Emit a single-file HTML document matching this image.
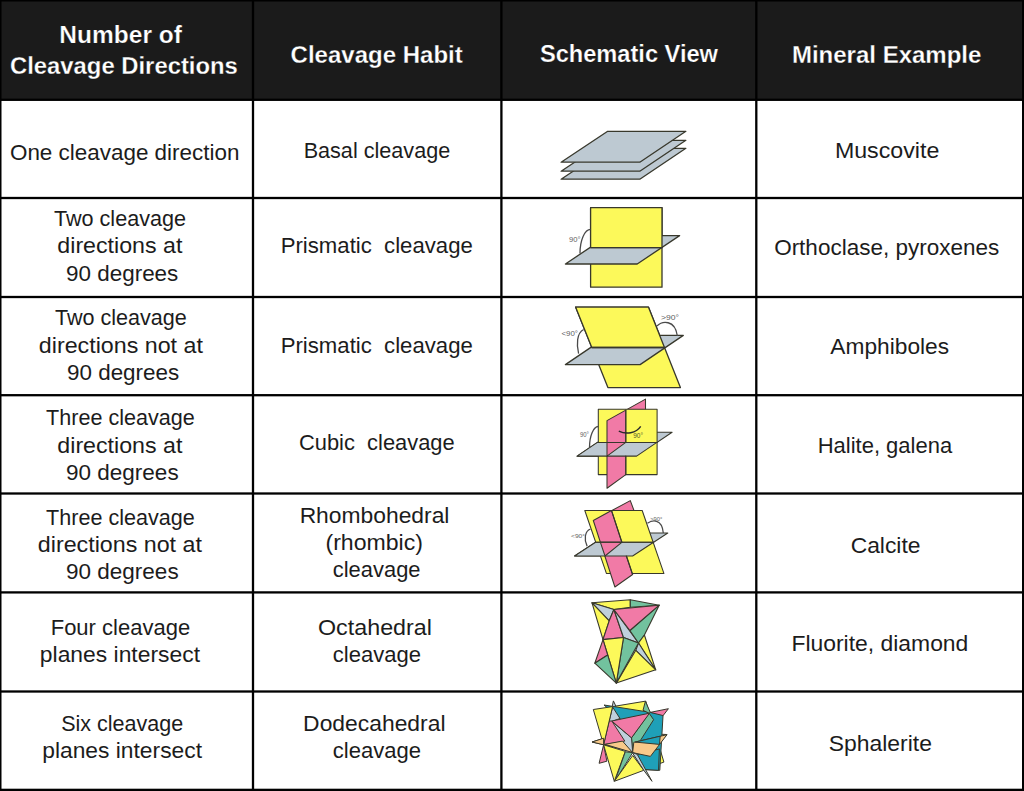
<!DOCTYPE html>
<html><head><meta charset="utf-8"><style>
html,body{margin:0;padding:0;background:#fff;width:1024px;height:791px;overflow:hidden}
svg{display:block}
text{font-family:"Liberation Sans",sans-serif}
</style></head><body>
<svg width="1024" height="791" viewBox="0 0 1024 791">
<rect width="1024" height="791" fill="#fff"/>
<rect x="0" y="0" width="1024" height="99.5" fill="#1b1b1b"/>
<rect x="0" y="0" width="1024" height="1.5" fill="#000"/><rect x="0" y="0" width="1.5" height="791" fill="#000"/><rect x="1022" y="0" width="2" height="791" fill="#000"/><rect x="0" y="788.7" width="1024" height="2.3" fill="#000"/>
<rect x="0" y="98.65" width="1024" height="2.3" fill="#000"/>
<rect x="0" y="196.85" width="1024" height="2.3" fill="#000"/>
<rect x="0" y="295.85" width="1024" height="2.3" fill="#000"/>
<rect x="0" y="394.05" width="1024" height="2.3" fill="#000"/>
<rect x="0" y="492.35" width="1024" height="2.3" fill="#000"/>
<rect x="0" y="591.25" width="1024" height="2.3" fill="#000"/>
<rect x="0" y="690.35" width="1024" height="2.3" fill="#000"/>
<rect x="251.85" y="0" width="2.3" height="791" fill="#000"/>
<rect x="500.25" y="0" width="2.3" height="791" fill="#000"/>
<rect x="755.15" y="0" width="2.3" height="791" fill="#000"/>
<polygon points="607.7,148.3 685.9,148.3 639.8,179.2 561.1,179.2" fill="#bdc9d2" stroke="#38382c" stroke-width="1.3" stroke-linejoin="round"/>
<polygon points="607.7,140.3 685.9,140.3 639.8,171.2 561.1,171.2" fill="#bdc9d2" stroke="#38382c" stroke-width="1.3" stroke-linejoin="round"/>
<polygon points="607.7,131.3 685.9,131.3 639.8,162.2 561.1,162.2" fill="#bdc9d2" stroke="#38382c" stroke-width="1.3" stroke-linejoin="round"/>
<polygon points="590.6,207.6 662.0,207.6 662.0,287.2 590.6,287.2" fill="#fcf95a" stroke="#38382c" stroke-width="1.3" stroke-linejoin="round"/>
<polygon points="565.4,264.0 637.2,264.0 679.6,235.6 607.8,235.6" fill="#bdc9d2" stroke="#38382c" stroke-width="1.3" stroke-linejoin="round"/>
<polygon points="590.6,207.6 662.0,207.6 662.0,247.6 590.6,247.6" fill="#fcf95a" stroke="#38382c" stroke-width="1.3" stroke-linejoin="round"/>
<line x1="590.6" y1="247.6" x2="662.0" y2="247.6" stroke="#38382c" stroke-width="1.3" stroke-linecap="round"/>
<path d="M580,253.5 A10.6,24 0 0 1 590.6,229.3" fill="none" stroke="#4a4a4a" stroke-width="1.3"/>
<text x="569.0" y="242.3" style="font-size:7px" textLength="11.5" lengthAdjust="spacingAndGlyphs" fill="#5e5e5e">90°</text>
<polygon points="575.6,307.1 648.4,307.1 680.4,387.6 607.9,387.6" fill="#fcf95a" stroke="#38382c" stroke-width="1.3" stroke-linejoin="round"/>
<polygon points="565.4,364.6 640.1,364.6 683.3,335.4 608.6,335.4" fill="#bdc9d2" stroke="#38382c" stroke-width="1.3" stroke-linejoin="round"/>
<polygon points="575.6,307.1 648.4,307.1 664.5,347.5 591.8,347.5" fill="#fcf95a" stroke="#38382c" stroke-width="1.3" stroke-linejoin="round"/>
<line x1="591.8" y1="347.5" x2="664.5" y2="347.5" stroke="#38382c" stroke-width="1.3" stroke-linecap="round"/>
<path d="M578.6,353.7 C576.5,345 576.5,333 583.7,329.5" fill="none" stroke="#4a4a4a" stroke-width="1.3"/>
<text x="561.5" y="336.3" style="font-size:6.5px" textLength="16.5" lengthAdjust="spacingAndGlyphs" fill="#5e5e5e">&lt;90°</text>
<path d="M656.9,326 C662,321 675,319 677.4,336" fill="none" stroke="#4a4a4a" stroke-width="1.3"/>
<text x="661.0" y="320.3" style="font-size:6.5px" textLength="18.0" lengthAdjust="spacingAndGlyphs" fill="#5e5e5e">&gt;90°</text>
<polygon points="607.0,420.6 645.5,399.1 645.5,455.0 607.0,470.0" fill="#f17aa6" stroke="#38382c" stroke-width="1.05" stroke-linejoin="round"/>
<polygon points="577.1,456.1 636.6,456.1 672.1,432.2 612.6,432.2" fill="#bdc9d2" stroke="#38382c" stroke-width="1.05" stroke-linejoin="round"/>
<polygon points="598.3,409.3 657.1,409.3 657.1,474.6 598.3,474.6" fill="#fcf95a" stroke="#38382c" stroke-width="1.05" stroke-linejoin="round"/>
<polygon points="607.0,420.6 625.8,410.1 625.8,474.6 607.0,488.2" fill="#f17aa6" stroke="#38382c" stroke-width="1.05" stroke-linejoin="round"/>
<polygon points="577.1,456.1 636.6,456.1 656.9,442.4 597.4,442.4" fill="#bdc9d2" stroke="#38382c" stroke-width="1.05" stroke-linejoin="round"/>
<polygon points="607.0,442.4 625.8,442.4 607.0,456.1" fill="#f17aa6" stroke="#38382c" stroke-width="1.05" stroke-linejoin="round"/>
<line x1="598.3" y1="442.4" x2="657.1" y2="442.4" stroke="#38382c" stroke-width="1.05" stroke-linecap="round"/>
<line x1="625.8" y1="410.1" x2="625.8" y2="442.4" stroke="#38382c" stroke-width="1.05" stroke-linecap="round"/>
<line x1="625.8" y1="456.1" x2="625.8" y2="474.6" stroke="#38382c" stroke-width="1.05" stroke-linecap="round"/>
<path d="M589.5,447.5 A8.8,21 0 0 1 598.3,426.5" fill="none" stroke="#4a4a4a" stroke-width="1.3"/>
<text x="580.0" y="436.8" style="font-size:6.3px" textLength="9.0" lengthAdjust="spacingAndGlyphs" fill="#5e5e5e">90°</text>
<path d="M618.8,431.1 C626,434.5 636,433.5 640.7,426.4" fill="none" stroke="#2a2a2a" stroke-width="1.4"/>
<text x="633.2" y="438.3" style="font-size:6.3px" textLength="9.8" lengthAdjust="spacingAndGlyphs" fill="#55552a">90°</text>
<polygon points="593.3,520.5 630.3,500.6 645.0,540.0 610.0,560.0" fill="#f17aa6" stroke="#38382c" stroke-width="1.05" stroke-linejoin="round"/>
<polygon points="574.6,556.0 632.6,556.0 667.8,533.0 609.8,533.0" fill="#bdc9d2" stroke="#38382c" stroke-width="1.05" stroke-linejoin="round"/>
<polygon points="584.8,510.5 642.2,510.5 663.9,573.4 606.4,573.4" fill="#fcf95a" stroke="#38382c" stroke-width="1.05" stroke-linejoin="round"/>
<polygon points="593.3,520.5 611.5,510.5 632.6,574.5 614.9,587.0" fill="#f17aa6" stroke="#38382c" stroke-width="1.05" stroke-linejoin="round"/>
<polygon points="574.6,556.0 632.6,556.0 653.6,542.3 595.6,542.3" fill="#bdc9d2" stroke="#38382c" stroke-width="1.05" stroke-linejoin="round"/>
<polygon points="600.4,542.3 621.8,542.3 605.0,556.0" fill="#f17aa6" stroke="#38382c" stroke-width="1.05" stroke-linejoin="round"/>
<line x1="595.6" y1="542.3" x2="653.6" y2="542.3" stroke="#38382c" stroke-width="1.05" stroke-linecap="round"/>
<line x1="611.5" y1="510.5" x2="621.8" y2="542.3" stroke="#38382c" stroke-width="1.05" stroke-linecap="round"/>
<line x1="626.3" y1="556.0" x2="632.6" y2="574.5" stroke="#38382c" stroke-width="1.05" stroke-linecap="round"/>
<path d="M587.1,546.1 C584,540 584.5,531 590.5,529" fill="none" stroke="#4a4a4a" stroke-width="1.3"/>
<text x="571.0" y="537.6" style="font-size:6px" textLength="14.0" lengthAdjust="spacingAndGlyphs" fill="#5e5e5e">&lt;90°</text>
<path d="M647.4,523.3 C652,520 662,518 663.3,533" fill="none" stroke="#4a4a4a" stroke-width="1.3"/>
<text x="650.2" y="521.2" style="font-size:6px" textLength="12.1" lengthAdjust="spacingAndGlyphs" fill="#5e5e5e">&gt;90°</text>
<polygon points="592.0,602.8 630.3,599.8 630.3,607.2 613.9,609.5" fill="#fcf95a" stroke="#38382c" stroke-width="1.1" stroke-linejoin="round"/>
<polygon points="630.3,599.8 659.2,605.2 630.3,607.2" fill="#72c29e" stroke="#38382c" stroke-width="1.1" stroke-linejoin="round"/>
<polygon points="592.0,602.8 613.9,609.5 609.2,620.8" fill="#bfd0dc" stroke="#38382c" stroke-width="1.1" stroke-linejoin="round"/>
<polygon points="592.0,602.8 609.2,620.8 603.0,639.6" fill="#fcf95a" stroke="#38382c" stroke-width="1.1" stroke-linejoin="round"/>
<polygon points="613.9,609.5 623.5,637.5 603.0,639.6 609.2,620.8" fill="#f17aa6" stroke="#38382c" stroke-width="1.1" stroke-linejoin="round"/>
<polygon points="613.9,609.5 638.5,643.0 623.5,637.5" fill="#bfd0dc" stroke="#38382c" stroke-width="1.1" stroke-linejoin="round"/>
<polygon points="659.2,605.2 644.4,635.0 638.5,643.0 629.9,630.5" fill="#72c29e" stroke="#38382c" stroke-width="1.1" stroke-linejoin="round"/>
<polygon points="613.9,609.5 659.2,605.2 629.9,630.5" fill="#f17aa6" stroke="#38382c" stroke-width="1.1" stroke-linejoin="round"/>
<polygon points="644.4,635.0 655.7,669.8 638.5,643.0" fill="#fcf95a" stroke="#38382c" stroke-width="1.1" stroke-linejoin="round"/>
<polygon points="638.5,643.0 655.7,669.8 635.8,650.3" fill="#bfd0dc" stroke="#38382c" stroke-width="1.1" stroke-linejoin="round"/>
<polygon points="635.8,650.3 655.7,669.8 616.3,683.1" fill="#fcf95a" stroke="#38382c" stroke-width="1.1" stroke-linejoin="round"/>
<polygon points="623.5,637.5 638.5,643.0 616.3,683.1" fill="#72c29e" stroke="#38382c" stroke-width="1.1" stroke-linejoin="round"/>
<polygon points="603.0,639.6 623.5,637.5 616.3,683.1" fill="#fcf95a" stroke="#38382c" stroke-width="1.1" stroke-linejoin="round"/>
<polygon points="603.0,639.6 607.7,655.0 594.8,663.2" fill="#f17aa6" stroke="#38382c" stroke-width="1.1" stroke-linejoin="round"/>
<polygon points="594.8,663.2 607.7,655.0 616.3,683.1" fill="#72c29e" stroke="#38382c" stroke-width="1.1" stroke-linejoin="round"/>
<polygon points="612.6,706.6 645.8,701.1 663.9,762.1 659.4,763.7" fill="#fcf95a" stroke="#38382c" stroke-width="1.0" stroke-linejoin="round"/>
<polygon points="592.1,742.0 622.5,732.5 666.8,734.5 649.5,755.5" fill="#f8c98a" stroke="#38382c" stroke-width="1.0" stroke-linejoin="round"/>
<polygon points="604.0,705.0 663.1,714.4 659.8,770.3 643.8,769.5 632.7,752.6 620.0,718.5" fill="#1fa0b8" stroke="#38382c" stroke-width="1.0" stroke-linejoin="round"/>
<polygon points="613.4,700.9 615.9,706.2 612.2,706.6" fill="#bfd0dc" stroke="#38382c" stroke-width="1.0" stroke-linejoin="round"/>
<polygon points="650.3,712.4 668.4,708.7 663.1,715.6" fill="#f17aa6" stroke="#38382c" stroke-width="1.0" stroke-linejoin="round"/>
<polygon points="645.4,701.3 650.3,712.4 649.1,713.2 643.0,710.3" fill="#72c29e" stroke="#38382c" stroke-width="1.0" stroke-linejoin="round"/>
<polygon points="649.1,713.2 653.6,719.7 632.7,752.6 631.5,737.8" fill="#72c29e" stroke="#38382c" stroke-width="1.0" stroke-linejoin="round"/>
<polygon points="612.6,707.0 620.0,718.5 611.8,721.4 631.5,737.8 632.7,752.6 622.5,743.9 603.6,744.8" fill="#bfd0dc" stroke="#38382c" stroke-width="1.0" stroke-linejoin="round"/>
<polygon points="611.8,721.0 649.5,713.2 631.5,737.8" fill="#f17aa6" stroke="#38382c" stroke-width="1.0" stroke-linejoin="round"/>
<polygon points="611.8,721.0 624.8,741.1 603.6,744.8 609.2,721.0" fill="#f17aa6" stroke="#38382c" stroke-width="1.0" stroke-linejoin="round"/>
<polygon points="593.3,709.5 612.6,706.6 603.6,744.8" fill="#fcf95a" stroke="#38382c" stroke-width="1.0" stroke-linejoin="round"/>
<polygon points="592.1,742.0 603.6,738.2 603.6,744.8" fill="#f8c98a" stroke="#38382c" stroke-width="1.0" stroke-linejoin="round"/>
<polygon points="604.8,744.3 622.5,741.1 632.7,752.6" fill="#f8c98a" stroke="#38382c" stroke-width="1.0" stroke-linejoin="round"/>
<polygon points="637.2,754.7 659.4,748.9 658.5,770.3 643.8,769.5" fill="#1fa0b8" stroke="#38382c" stroke-width="1.0" stroke-linejoin="round"/>
<polygon points="633.8,742.3 667.0,734.7 650.4,756.4 632.6,752.6" fill="#f8c98a" stroke="#38382c" stroke-width="1.0" stroke-linejoin="round"/>
<polygon points="635.2,742.1 660.2,736.2 659.5,744.4" fill="#1fa0b8" stroke="#38382c" stroke-width="1.0" stroke-linejoin="round"/>
<polygon points="603.6,744.8 606.9,761.2 599.1,763.3" fill="#f17aa6" stroke="#38382c" stroke-width="1.0" stroke-linejoin="round"/>
<polygon points="603.6,744.8 625.3,751.4 614.3,781.3" fill="#fcf95a" stroke="#38382c" stroke-width="1.0" stroke-linejoin="round"/>
<polygon points="625.3,751.8 632.7,752.6 615.1,780.9" fill="#72c29e" stroke="#38382c" stroke-width="1.0" stroke-linejoin="round"/>
<polygon points="632.7,755.5 643.8,770.3 614.3,781.3" fill="#fcf95a" stroke="#38382c" stroke-width="1.0" stroke-linejoin="round"/>
<polygon points="632.3,752.6 637.2,754.3 652.0,781.3 643.8,770.3" fill="#bfd0dc" stroke="#38382c" stroke-width="1.0" stroke-linejoin="round"/>
<text transform="translate(59.36 42.50) scale(1.0433 1)" style="font-size:23.5px;font-weight:bold;" fill="#fff" stroke="#1b1b1b" stroke-width="0.25" xml:space="preserve">Number of</text>
<text transform="translate(10.02 73.60) scale(1.0147 1)" style="font-size:23.5px;font-weight:bold;" fill="#fff" stroke="#1b1b1b" stroke-width="0.25" xml:space="preserve">Cleavage Directions</text>
<text transform="translate(290.61 62.50) scale(1.0219 1)" style="font-size:23.5px;font-weight:bold;" fill="#fff" stroke="#1b1b1b" stroke-width="0.25" xml:space="preserve">Cleavage Habit</text>
<text transform="translate(539.92 62.40) scale(1.0056 1)" style="font-size:23.5px;font-weight:bold;" fill="#fff" stroke="#1b1b1b" stroke-width="0.25" xml:space="preserve">Schematic View</text>
<text transform="translate(791.89 62.60) scale(1.0225 1)" style="font-size:23.5px;font-weight:bold;" fill="#fff" stroke="#1b1b1b" stroke-width="0.25" xml:space="preserve">Mineral Example</text>
<text transform="translate(9.94 159.70) scale(1.0437 1)" style="font-size:21.5px;" fill="#1c1c1c" xml:space="preserve">One cleavage direction</text>
<text transform="translate(53.91 225.70) scale(1.0052 1)" style="font-size:21.5px;" fill="#1c1c1c" xml:space="preserve">Two cleavage</text>
<text transform="translate(57.33 253.40) scale(1.0796 1)" style="font-size:21.5px;" fill="#1c1c1c" xml:space="preserve">directions at</text>
<text transform="translate(66.05 280.80) scale(1.0435 1)" style="font-size:21.5px;" fill="#1c1c1c" xml:space="preserve">90 degrees</text>
<text transform="translate(54.91 325.30) scale(1.0045 1)" style="font-size:21.5px;" fill="#1c1c1c" xml:space="preserve">Two cleavage</text>
<text transform="translate(38.82 353.00) scale(1.0821 1)" style="font-size:21.5px;" fill="#1c1c1c" xml:space="preserve">directions not at</text>
<text transform="translate(67.05 379.90) scale(1.0425 1)" style="font-size:21.5px;" fill="#1c1c1c" xml:space="preserve">90 degrees</text>
<text transform="translate(46.11 424.60) scale(1.0043 1)" style="font-size:21.5px;" fill="#1c1c1c" xml:space="preserve">Three cleavage</text>
<text transform="translate(57.33 453.00) scale(1.0796 1)" style="font-size:21.5px;" fill="#1c1c1c" xml:space="preserve">directions at</text>
<text transform="translate(66.04 479.70) scale(1.0473 1)" style="font-size:21.5px;" fill="#1c1c1c" xml:space="preserve">90 degrees</text>
<text transform="translate(46.11 524.60) scale(1.0043 1)" style="font-size:21.5px;" fill="#1c1c1c" xml:space="preserve">Three cleavage</text>
<text transform="translate(37.82 552.30) scale(1.0821 1)" style="font-size:21.5px;" fill="#1c1c1c" xml:space="preserve">directions not at</text>
<text transform="translate(66.04 579.30) scale(1.0473 1)" style="font-size:21.5px;" fill="#1c1c1c" xml:space="preserve">90 degrees</text>
<text transform="translate(50.69 634.50) scale(1.0238 1)" style="font-size:21.5px;" fill="#1c1c1c" xml:space="preserve">Four cleavage</text>
<text transform="translate(39.83 661.80) scale(1.0641 1)" style="font-size:21.5px;" fill="#1c1c1c" xml:space="preserve">planes intersect</text>
<text transform="translate(61.22 730.50) scale(1.0011 1)" style="font-size:21.5px;" fill="#1c1c1c" xml:space="preserve">Six cleavage</text>
<text transform="translate(42.23 757.80) scale(1.0615 1)" style="font-size:21.5px;" fill="#1c1c1c" xml:space="preserve">planes intersect</text>
<text transform="translate(303.63 157.80) scale(1.0063 1)" style="font-size:21.5px;" fill="#1c1c1c" xml:space="preserve">Basal cleavage</text>
<text transform="translate(280.68 253.40) scale(1.0311 1)" style="font-size:21.5px;" fill="#1c1c1c" xml:space="preserve">Prismatic  cleavage</text>
<text transform="translate(280.68 352.80) scale(1.0311 1)" style="font-size:21.5px;" fill="#1c1c1c" xml:space="preserve">Prismatic  cleavage</text>
<text transform="translate(298.99 450.30) scale(1.0177 1)" style="font-size:21.5px;" fill="#1c1c1c" xml:space="preserve">Cubic  cleavage</text>
<text transform="translate(299.63 522.60) scale(1.0629 1)" style="font-size:21.5px;" fill="#1c1c1c" xml:space="preserve">Rhombohedral</text>
<text transform="translate(325.47 550.00) scale(1.0747 1)" style="font-size:21.5px;" fill="#1c1c1c" xml:space="preserve">(rhombic)</text>
<text transform="translate(332.77 577.30) scale(1.0203 1)" style="font-size:21.5px;" fill="#1c1c1c" xml:space="preserve">cleavage</text>
<text transform="translate(318.00 634.50) scale(1.0836 1)" style="font-size:21.5px;" fill="#1c1c1c" xml:space="preserve">Octahedral</text>
<text transform="translate(332.76 661.80) scale(1.0250 1)" style="font-size:21.5px;" fill="#1c1c1c" xml:space="preserve">cleavage</text>
<text transform="translate(303.12 730.80) scale(1.0638 1)" style="font-size:21.5px;" fill="#1c1c1c" xml:space="preserve">Dodecahedral</text>
<text transform="translate(332.76 758.20) scale(1.0250 1)" style="font-size:21.5px;" fill="#1c1c1c" xml:space="preserve">cleavage</text>
<text transform="translate(834.90 158.40) scale(1.0791 1)" style="font-size:21.5px;" fill="#1c1c1c" xml:space="preserve">Muscovite</text>
<text transform="translate(774.13 254.50) scale(1.0468 1)" style="font-size:21.5px;" fill="#1c1c1c" xml:space="preserve">Orthoclase, pyroxenes</text>
<text transform="translate(830.36 353.60) scale(1.0572 1)" style="font-size:21.5px;" fill="#1c1c1c" xml:space="preserve">Amphiboles</text>
<text transform="translate(817.70 453.10) scale(1.0230 1)" style="font-size:21.5px;" fill="#1c1c1c" xml:space="preserve">Halite, galena</text>
<text transform="translate(850.64 553.00) scale(1.0633 1)" style="font-size:21.5px;" fill="#1c1c1c" xml:space="preserve">Calcite</text>
<text transform="translate(791.42 650.80) scale(1.0659 1)" style="font-size:21.5px;" fill="#1c1c1c" xml:space="preserve">Fluorite, diamond</text>
<text transform="translate(828.66 750.50) scale(1.0666 1)" style="font-size:21.5px;" fill="#1c1c1c" xml:space="preserve">Sphalerite</text>
</svg>
</body></html>
